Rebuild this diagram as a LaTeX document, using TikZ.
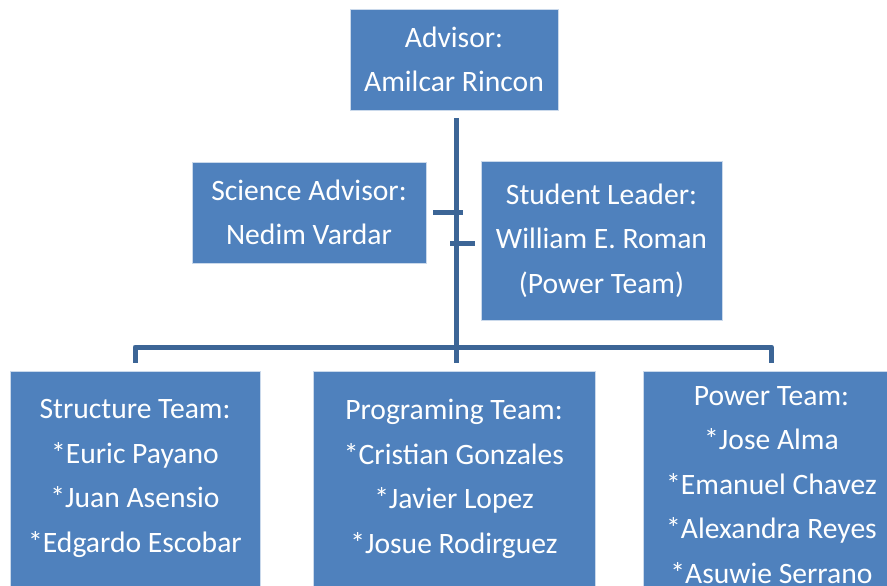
\documentclass[tikz,border=0pt]{standalone}
\usepackage{fontspec}
\setmainfont{Carlito}
\definecolor{boxblue}{HTML}{4F81BD}
\definecolor{linkblue}{HTML}{3C6596}
\tikzset{member/.style={fill=boxblue,draw=white!70!boxblue,line width=0.8pt,text=white,inner sep=0pt,
  align=center,font=\fontsize{29.6}{44.5}\selectfont}}
\tikzset{link/.style={draw=linkblue,line width=5pt,line join=round}}

\begin{document}
\begin{tikzpicture}[x=1pt,y=-1pt]
  \useasboundingbox (0,0) rectangle (887,586);
  \clip (0,0) rectangle (887,586);
  \node [member,minimum width=208,minimum height=101] (adv) at (454,59.5) {Advisor:\\Amilcar Rincon};
  \node [member,minimum width=234,minimum height=101] (sci) at (309,212.5) {Science Advisor:\\Nedim Vardar};
  \node [member,minimum width=241,minimum height=159] (lead) at (601.5,240.5) {Student Leader:\\William E. Roman\\(Power Team)};
  \node [member,minimum width=250,minimum height=215] (str) at (135,478.5) {Structure Team:\\*Euric Payano\\*Juan Asensio\\*Edgardo Escobar};
  \node [member,minimum width=282,minimum height=215] (prog) at (454,479) {Programing Team:\\*Cristian Gonzales\\*Javier Lopez\\*Josue Rodirguez};
  \node [member,minimum width=257,minimum height=227] (pow) at (771.5,485) {Power Team:\\*Jose Alma\\*Emanuel Chavez\\*Alexandra Reyes\\*Asuwie Serrano};
  % trunk and bus
  \coordinate (bus) at (456,347);
  \draw [link] (456,118) -- (bus);
  \draw [link] ([yshift=8pt]str.north) |- (bus) -| ([yshift=8pt]pow.north);
  \draw [link] (bus) -- ([yshift=8pt]bus |- prog.north);
  % side stubs
  \draw [link] ([xshift=7pt]sci.east) -- ([xshift=7pt]sci.east -| bus);
  \draw [link] ([xshift=-6pt,yshift=-3pt]lead.west) -- ([xshift=-6pt,yshift=-3pt]lead.west -| bus);
\end{tikzpicture}
\end{document}
